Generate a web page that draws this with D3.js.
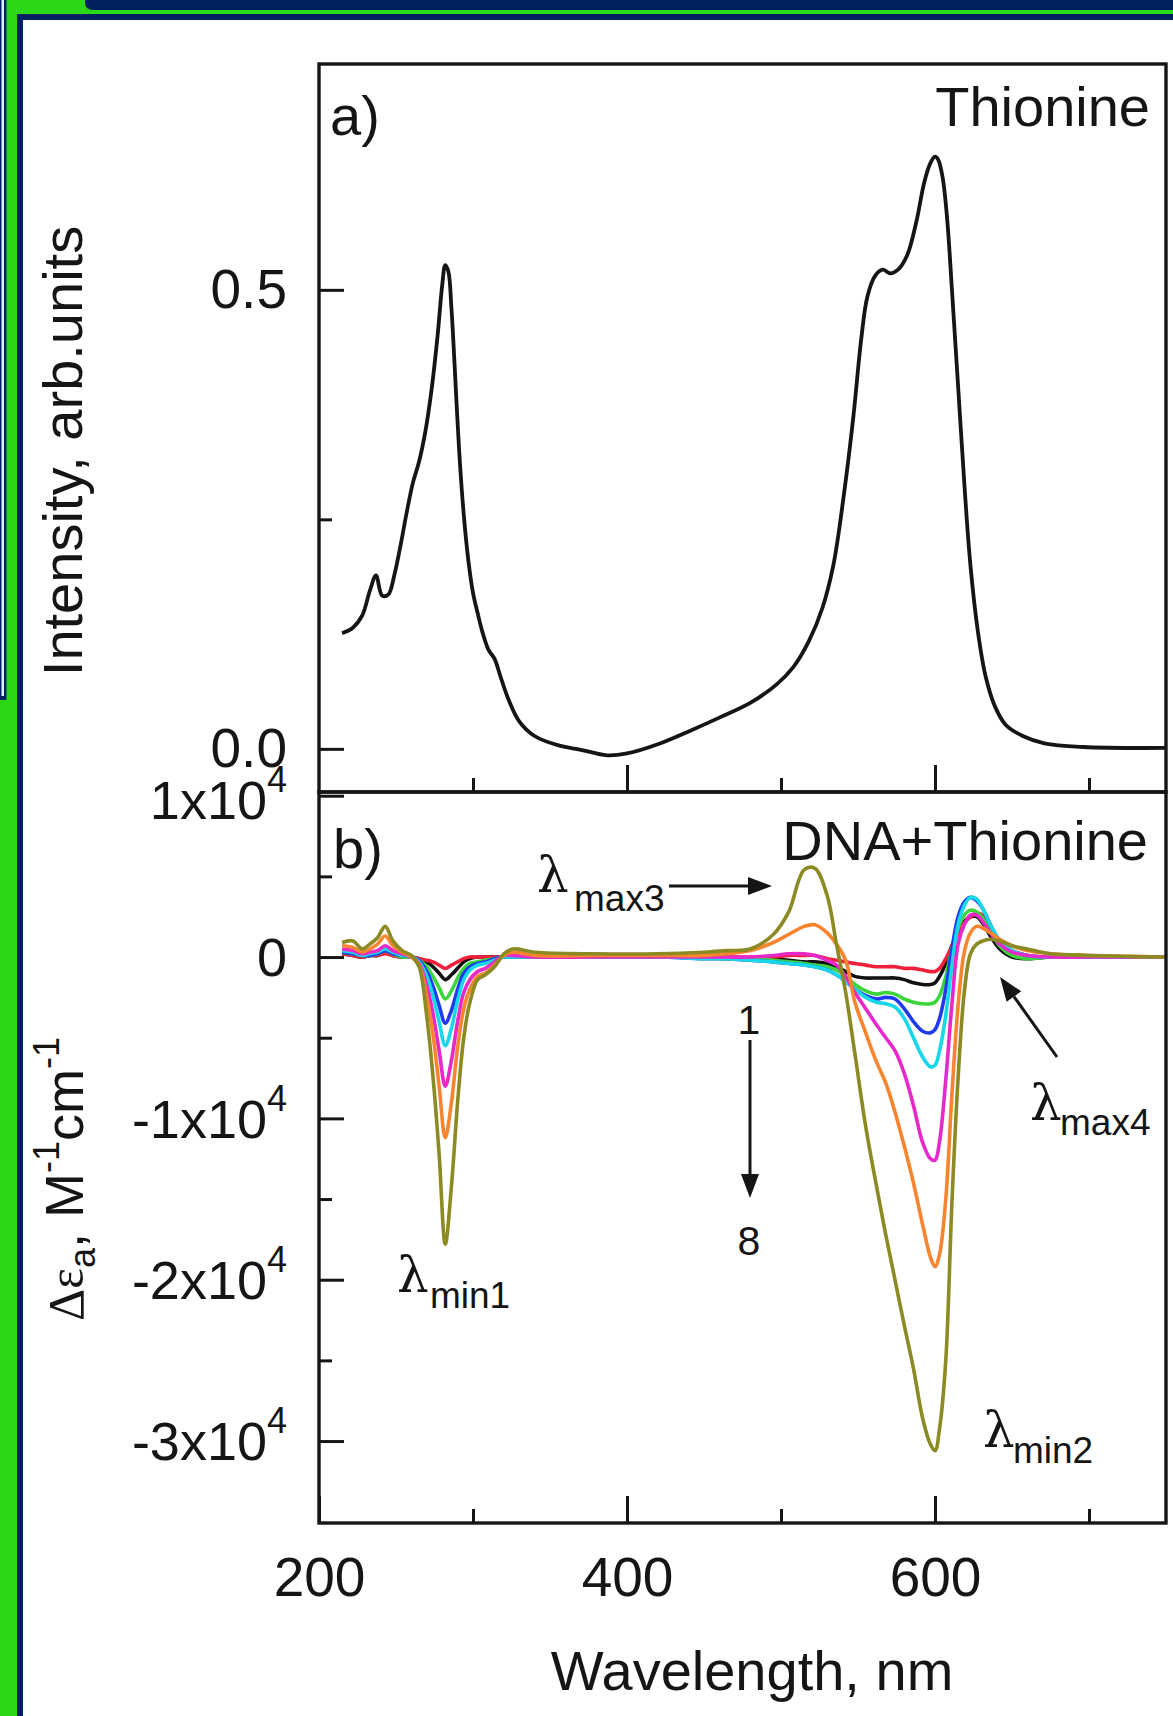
<!DOCTYPE html>
<html><head><meta charset="utf-8">
<script src="https://cdn.jsdelivr.net/npm/d3@7"></script>
<style>
body{margin:0;background:#fff}
svg{display:block}
text{font-family:"Liberation Sans",Arial,Helvetica,sans-serif;fill:#151515}
</style>
</head><body>
<svg id="c" width="1173" height="1716"></svg>
<script>
// ---------- DATA ----------
// Panel a) Thionine absorption
const topWavelength = [215,222,228,233,237,241,245,249,253,257,
  261,265,269,273,277,280,282,284,286,288,
  291,294,297,300,303,306,310,314,318,323,
  330,340,355,370,387,400,420,440,460,480,
  497,508,518,527,534,541,547,552,556,561,
  566,571,576,582,588,593,597,600,602,605,
  608,611,615,619,623,628,633,639,646,657,
  671,696,750];
const topIntensity = [0.126,0.132,0.145,0.172,0.189,0.167,0.168,0.190,0.222,0.258,
  0.290,0.313,0.345,0.390,0.450,0.505,0.527,0.520,0.480,0.420,
  0.325,0.255,0.205,0.170,0.148,0.128,0.108,0.098,0.078,0.054,
  0.030,0.014,0.004,-0.001,-0.007,-0.005,0.005,0.019,0.034,0.050,
  0.070,0.089,0.117,0.154,0.200,0.279,0.362,0.445,0.492,0.515,
  0.522,0.518,0.522,0.538,0.575,0.617,0.638,0.645,0.642,0.622,
  0.575,0.500,0.395,0.290,0.200,0.126,0.078,0.046,0.026,0.014,
  0.006,0.002,0.001];

// Panel b) DNA+Thionine, values in units of 1x10^4 M^-1 cm^-1
const cdWavelength = [215,222,228,233,238,243,248,254,260,265,
  270,274,278,282,286,290,294,298,303,308,
  314,320,326,340,380,420,450,465,480,495,
  505,515,522,530,536,542,548,555,562,568,
  574,580,586,592,597,600,603,607,611,615,
  619,623,627,631,636,642,650,660,675,700,
  750];
const cdBlack = [0.02,0.01,0.00,0.01,0.01,0.03,0.01,0.00,0.00,-0.01,
  -0.03,-0.06,-0.10,-0.14,-0.11,-0.07,-0.03,-0.01,0.00,0.00,
  0.00,0.00,0.00,0.00,0.00,0.00,0.00,0.00,-0.01,-0.01,
  -0.02,-0.03,-0.03,-0.04,-0.06,-0.09,-0.12,-0.13,-0.13,-0.13,
  -0.13,-0.14,-0.16,-0.17,-0.17,-0.16,-0.12,-0.04,0.07,0.16,
  0.22,0.25,0.25,0.21,0.13,0.05,0.00,-0.01,0.00,0.00,
  0.00];
const cdRed = [0.02,0.01,0.00,0.01,0.01,0.02,0.01,0.00,0.00,-0.01,
  -0.02,-0.03,-0.05,-0.07,-0.05,-0.03,-0.01,0.00,0.00,0.00,
  0.00,0.00,0.00,0.00,0.00,0.00,0.00,0.00,0.00,0.00,
  0.01,0.01,0.01,-0.01,-0.02,-0.03,-0.04,-0.05,-0.06,-0.06,
  -0.06,-0.07,-0.07,-0.08,-0.09,-0.09,-0.07,-0.01,0.07,0.15,
  0.21,0.25,0.27,0.26,0.19,0.10,0.04,0.01,0.00,0.00,
  0.00];
const cdGreen = [0.03,0.02,0.01,0.01,0.02,0.04,0.02,0.00,0.00,-0.02,
  -0.06,-0.12,-0.19,-0.26,-0.21,-0.13,-0.07,-0.04,-0.03,-0.02,
  -0.01,0.00,0.00,0.00,0.00,0.00,0.00,-0.01,-0.01,-0.02,
  -0.03,-0.04,-0.05,-0.06,-0.08,-0.12,-0.17,-0.21,-0.23,-0.22,
  -0.23,-0.26,-0.28,-0.29,-0.29,-0.28,-0.24,-0.12,0.05,0.18,
  0.26,0.29,0.28,0.24,0.16,0.07,0.01,-0.01,0.00,0.00,
  0.00];
const cdBlue = [0.03,0.02,0.01,0.01,0.02,0.04,0.02,0.01,0.00,-0.02,
  -0.09,-0.18,-0.30,-0.41,-0.33,-0.20,-0.10,-0.06,-0.04,-0.03,
  -0.01,0.00,0.00,0.00,0.00,0.00,-0.01,-0.01,-0.02,-0.03,
  -0.04,-0.05,-0.06,-0.08,-0.11,-0.15,-0.20,-0.24,-0.26,-0.25,
  -0.26,-0.32,-0.40,-0.46,-0.47,-0.45,-0.38,-0.20,0.05,0.25,
  0.34,0.37,0.35,0.30,0.20,0.10,0.04,0.01,0.00,0.00,
  0.00];
const cdCyan = [0.04,0.03,0.01,0.02,0.03,0.05,0.03,0.01,0.00,-0.03,
  -0.12,-0.24,-0.40,-0.55,-0.44,-0.27,-0.14,-0.08,-0.05,-0.04,
  -0.02,0.00,0.00,0.00,0.00,0.00,-0.01,-0.01,-0.02,-0.03,
  -0.04,-0.05,-0.06,-0.08,-0.11,-0.15,-0.20,-0.25,-0.28,-0.29,
  -0.31,-0.38,-0.50,-0.62,-0.68,-0.67,-0.58,-0.36,-0.05,0.20,
  0.32,0.37,0.36,0.30,0.20,0.10,0.04,0.01,0.00,0.00,
  0.00];
const cdMagenta = [0.05,0.04,0.02,0.03,0.04,0.07,0.04,0.02,0.00,-0.04,
  -0.18,-0.35,-0.58,-0.80,-0.64,-0.40,-0.22,-0.14,-0.09,-0.07,
  -0.03,0.01,0.01,0.00,0.00,0.00,0.00,0.00,0.00,0.01,
  0.02,0.02,0.01,-0.02,-0.05,-0.12,-0.22,-0.32,-0.42,-0.50,
  -0.58,-0.72,-0.92,-1.15,-1.25,-1.26,-1.14,-0.76,-0.29,0.08,
  0.20,0.26,0.26,0.22,0.15,0.08,0.03,0.01,0.00,0.00,
  0.00];
const cdOrange = [0.07,0.06,0.03,0.05,0.08,0.13,0.07,0.03,0.00,-0.05,
  -0.25,-0.48,-0.80,-1.12,-0.90,-0.56,-0.32,-0.20,-0.12,-0.10,
  -0.05,0.01,0.03,0.01,0.01,0.01,0.01,0.02,0.04,0.09,
  0.14,0.19,0.20,0.15,0.08,-0.02,-0.28,-0.47,-0.65,-0.78,
  -0.96,-1.17,-1.40,-1.66,-1.86,-1.92,-1.84,-1.50,-0.85,-0.30,
  0.03,0.15,0.19,0.18,0.15,0.11,0.07,0.04,0.02,0.01,
  0.00];
const cdOlive = [0.09,0.10,0.05,0.08,0.12,0.19,0.10,0.04,0.01,-0.06,
  -0.37,-0.74,-1.22,-1.78,-1.42,-0.90,-0.50,-0.28,-0.14,-0.11,
  -0.06,0.02,0.05,0.03,0.02,0.02,0.03,0.04,0.05,0.14,
  0.28,0.54,0.55,0.38,0.08,-0.22,-0.60,-1.05,-1.42,-1.72,
  -2.00,-2.28,-2.55,-2.86,-3.02,-3.06,-2.92,-2.50,-1.52,-0.75,
  -0.22,0.02,0.08,0.10,0.11,0.10,0.07,0.05,0.02,0.01,
  0.00];
const cdSeriesNames = ["black","red","green","blue","cyan","magenta","orange","olive"];
const cdSeriesColors = ["#111111","#f0203a","#3cd63c","#1f3bf0","#16d8e8","#e629c8","#f7842e","#8c8a22"];
const cdSeriesValues = [cdBlack,cdRed,cdGreen,cdBlue,cdCyan,cdMagenta,cdOrange,cdOlive];

const xTickMajor = [200,400,600];
const xTickMinor = [300,500,700];
const topTickMajor = [0,0.5];
const topTickMinor = [0.25];
const botTickMajor = [1,0,-1,-2,-3];
const botTickMinor = [0.5,-0.5,-1.5,-2.5];

// ---------- LAYOUT ----------
const W = 1173, H = 1716;
const L = 319, R = 1166, T1 = 64, D = 792, B2 = 1523;
const INK = "#151515";
const NAVY = "#002060", GREEN = "#2ad818";
const svg = d3.select("#c");

// decorative frame
svg.append("rect").attr("width",W).attr("height",H).attr("fill","#fff");
svg.append("rect").attr("x",0).attr("y",0).attr("width",17).attr("height",H).attr("fill",GREEN);
svg.append("rect").attr("x",0).attr("y",0).attr("width",W).attr("height",14).attr("fill",GREEN);
svg.append("path").attr("d",`M85,0H${W}V10H93Q85,10 85,2Z`).attr("fill",NAVY);
svg.append("rect").attr("x",17).attr("y",14).attr("width",W-17).attr("height",6).attr("fill",NAVY);
svg.append("rect").attr("x",17).attr("y",14).attr("width",6).attr("height",H-14).attr("fill",NAVY);
svg.append("rect").attr("x",0).attr("y",0).attr("width",6.5).attr("height",700).attr("fill",NAVY);
svg.append("rect").attr("x",1.5).attr("y",0).attr("width",2.5).attr("height",696).attr("fill","#e6ebf5");

// scales
const x = d3.scaleLinear().domain([200,750]).range([L,R]);
const yTop = d3.scaleLinear().domain([-0.047,0.746]).range([D,T1]);
const yBot = d3.scaleLinear().domain([-3.508,1.023]).range([B2,D]);

// clip paths
const defs = svg.append("defs");
defs.append("clipPath").attr("id","clipA").append("rect").attr("x",L).attr("y",T1).attr("width",R-L).attr("height",D-T1);
defs.append("clipPath").attr("id","clipB").append("rect").attr("x",L).attr("y",D).attr("width",R-L).attr("height",B2-D);

// ---------- PANEL A ----------
const topData = topWavelength.map((w,i)=>({w, v: topIntensity[i]}));
svg.append("path").datum(topData)
  .attr("clip-path","url(#clipA)")
  .attr("fill","none").attr("stroke",INK).attr("stroke-width",3.8).attr("stroke-linejoin","round")
  .attr("d", d3.line().x(d=>x(d.w)).y(d=>yTop(d.v)).curve(d3.curveCatmullRom.alpha(0.5)));

// ---------- PANEL B ----------
const lineB = d3.line().x(d=>x(d.w)).y(d=>yBot(d.v)).curve(d3.curveCatmullRom.alpha(0.5));
const gB = svg.append("g").attr("clip-path","url(#clipB)");
cdSeriesValues.forEach((vals,k)=>{
  const data = cdWavelength.map((w,i)=>({w, v: vals[i]}));
  gB.append("path").datum(data)
    .attr("class","cd-"+cdSeriesNames[k])
    .attr("fill","none").attr("stroke",cdSeriesColors[k]).attr("stroke-width",3.6)
    .attr("stroke-linejoin","round").attr("d",lineB);
});

// ---------- AXES ----------
function styleAxis(g){
  g.select(".domain").remove();
  g.selectAll(".tick line").attr("stroke",INK).attr("stroke-width",3);
  g.selectAll(".tick text").attr("fill",INK).style("font-size","55px");
}
// panel a left
svg.append("g").attr("transform",`translate(${L},0)`)
  .call(d3.axisLeft(yTop).tickValues(topTickMajor).tickSize(-25).tickPadding(32).tickFormat(d3.format(".1f")))
  .call(styleAxis);
svg.append("g").attr("transform",`translate(${L},0)`)
  .call(d3.axisLeft(yTop).tickValues(topTickMinor).tickSize(-13).tickFormat(""))
  .call(styleAxis);
// panel a bottom ticks (no labels)
svg.append("g").attr("transform",`translate(0,${D})`)
  .call(d3.axisBottom(x).tickValues([400,600]).tickSize(-27).tickFormat(""))
  .call(styleAxis);
svg.append("g").attr("transform",`translate(0,${D})`)
  .call(d3.axisBottom(x).tickValues(xTickMinor).tickSize(-14).tickFormat(""))
  .call(styleAxis);
// panel b left
svg.append("g").attr("transform",`translate(${L},0)`)
  .call(d3.axisLeft(yBot).tickValues(botTickMajor).tickSize(-25).tickFormat(""))
  .call(styleAxis);
svg.append("g").attr("transform",`translate(${L},0)`)
  .call(d3.axisLeft(yBot).tickValues(botTickMinor).tickSize(-13).tickFormat(""))
  .call(styleAxis);
const botLab = svg.append("g");
botTickMajor.forEach(v=>{
  const t = botLab.append("text").attr("x",287).attr("y",yBot(v) + (v===1 ? 4 : 0)).attr("dy","0.36em")
    .attr("text-anchor","end").style("font-size","54px");
  if (v === 0) { t.text("0"); return; }
  t.append("tspan").text((v<0?"-":"") + Math.abs(v) + "x10");
  t.append("tspan").attr("dy",-27).style("font-size","36px").text("4");
});
// panel b bottom
svg.append("g").attr("transform",`translate(0,${B2})`)
  .call(d3.axisBottom(x).tickValues(xTickMajor).tickSize(-27).tickPadding(34))
  .call(styleAxis);
svg.append("g").attr("transform",`translate(0,${B2})`)
  .call(d3.axisBottom(x).tickValues(xTickMinor).tickSize(-14).tickFormat(""))
  .call(styleAxis);

// frames
[[T1,D],[D,B2]].forEach(([a,b])=>{
  svg.append("rect").attr("x",L).attr("y",a).attr("width",R-L).attr("height",b-a)
    .attr("fill","none").attr("stroke",INK).attr("stroke-width",3.4);
});

// ---------- TEXT ----------
svg.append("text").attr("x",330).attr("y",135).style("font-size","56px").text("a)");
svg.append("text").attr("x",333).attr("y",868).style("font-size","56px").text("b)");
svg.append("text").attr("x",1150).attr("y",126).attr("text-anchor","end").style("font-size","56px").text("Thionine");
svg.append("text").attr("x",1148).attr("y",860).attr("text-anchor","end").style("font-size","56px").text("DNA+Thionine");

svg.append("text").attr("x",752).attr("y",1690).attr("text-anchor","middle").style("font-size","56px").text("Wavelength, nm");

svg.append("text").attr("transform","translate(82,451) rotate(-90)").attr("text-anchor","middle")
  .style("font-size","56px").text("Intensity, arb.units");

const yl = svg.append("text").attr("transform","translate(83,1179) rotate(-90)").attr("text-anchor","middle")
  .style("font-size","54px");
yl.append("tspan").style("font-family","'Liberation Serif','DejaVu Serif',serif").style("font-size","50px").text("Δε");
yl.append("tspan").attr("dy",12).style("font-size","36px").text("a");
yl.append("tspan").attr("dy",-12).text(", M");
yl.append("tspan").attr("dy",-24).style("font-size","36px").text("-1");
yl.append("tspan").attr("dy",24).text("cm");
yl.append("tspan").attr("dy",-24).style("font-size","36px").text("-1");

// lambda annotations
const lam = [
  {x:537,y:892,sx:574,sy:911,sub:"max3"},
  {x:397,y:1292,sx:430,sy:1308,sub:"min1"},
  {x:983,y:1447,sx:1013,sy:1463,sub:"min2"},
  {x:1030,y:1120,sx:1060,sy:1135,sub:"max4"}
];
lam.forEach(a=>{
  svg.append("text").attr("x",a.x).attr("y",a.y)
    .style("font-family","'DejaVu Serif','Liberation Serif',serif").style("font-size","50px").text("λ");
  svg.append("text").attr("x",a.sx).attr("y",a.sy).style("font-size","37px").text(a.sub);
});
// arrows
function arrow(x1,y1,x2,y2){
  const dx=x2-x1, dy=y2-y1, len=Math.hypot(dx,dy), ux=dx/len, uy=dy/len;
  const hl=24, hw=9;
  const bx=x2-ux*hl, by=y2-uy*hl;
  svg.append("line").attr("x1",x1).attr("y1",y1).attr("x2",bx).attr("y2",by)
    .attr("stroke",INK).attr("stroke-width",3);
  svg.append("path").attr("d",`M${x2},${y2}L${bx-uy*hw},${by+ux*hw}L${bx+uy*hw},${by-ux*hw}Z`).attr("fill",INK);
}
arrow(669,886,772,886);
arrow(1057,1057,1000,977);
arrow(750,1040,750,1198);
svg.append("text").attr("x",749).attr("y",1034).attr("text-anchor","middle").style("font-size","41px").text("1");
svg.append("text").attr("x",749).attr("y",1255).attr("text-anchor","middle").style("font-size","41px").text("8");
</script>
</body></html>
